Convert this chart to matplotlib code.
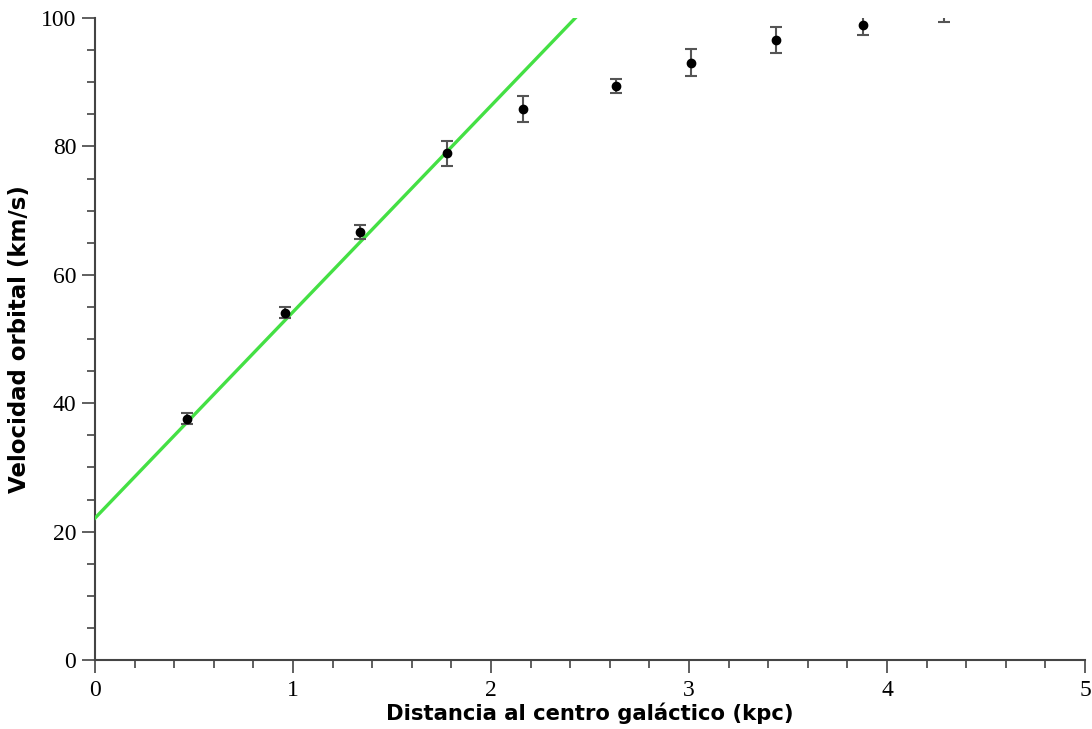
import matplotlib.pyplot as plt
import numpy as np

# datos observados (distancia en kpc, velocidad en km/s)
dist = [0.465, 0.96, 1.34, 1.78, 2.16, 2.63, 3.01, 3.44, 3.88, 4.29]
vel = [37.6, 54.1, 66.7, 78.9, 85.8, 89.4, 93.0, 96.6, 98.9, 101.4]
err = [0.9, 0.9, 1.1, 2.0, 2.0, 1.1, 2.1, 2.0, 1.6, 2.0]

# recta de rotacion solida
fit_x = [0.0, 2.6]
fit_y = [22.1, 105.6]

fig = plt.figure(figsize=(10.92, 7.29), dpi=100)
ax = fig.add_axes([95/1092, 1 - 660/729, 990/1092, 642/729])

ax.plot(fit_x, fit_y, color="#44e044", lw=2.4, zorder=3)
ax.errorbar(dist, vel, yerr=err, fmt="o", color="black", ms=6,
            ecolor="#555555", elinewidth=1.5, capsize=4.5, capthick=1.5, zorder=4)

ax.set_xlim(0, 5)
ax.set_ylim(0, 100)
ax.set_xticks(np.arange(0, 6, 1))
ax.set_xticks(np.arange(0, 5.01, 0.2), minor=True)
ax.set_yticks(np.arange(0, 101, 20))
ax.set_yticks(np.arange(0, 101, 5), minor=True)

for s in ["top", "right"]:
    ax.spines[s].set_visible(False)
for s in ["left", "bottom"]:
    ax.spines[s].set_color("#444444")
    ax.spines[s].set_linewidth(1.5)

ax.tick_params(which="major", length=9.5, width=1.2, color="#444444", direction="out")
ax.tick_params(which="minor", length=5.5, width=1.2, color="#444444", direction="out")
for lab in ax.get_xticklabels() + ax.get_yticklabels():
    lab.set_family("Liberation Serif")
    lab.set_fontsize(17)
ax.tick_params(axis="x", pad=5)
ax.tick_params(axis="y", pad=4)

ax.set_xlabel("Distancia al centro galáctico (kpc)", fontsize=15.2, fontweight="bold", labelpad=1)
ax.set_ylabel("Velocidad orbital (km/s)", fontsize=16.5, fontweight="bold", labelpad=7)

fig.savefig("out.png", dpi=100)
